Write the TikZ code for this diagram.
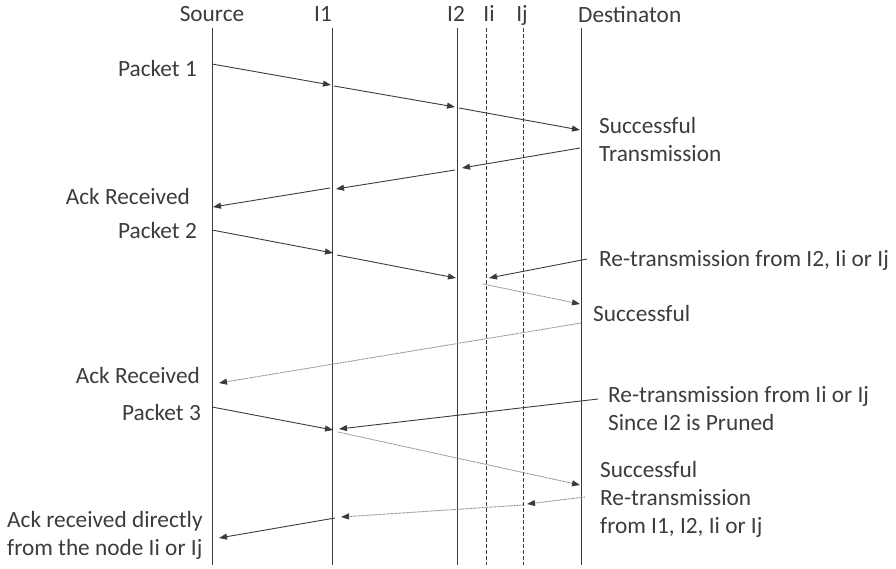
\documentclass[tikz,border=0pt]{standalone}
\usepackage{fontspec}
\setmainfont{Carlito}
\usetikzlibrary{arrows.meta}

\definecolor{lifegray}{HTML}{3C3C3C}
\definecolor{fadegray}{HTML}{8A8A8A}
\tikzset{
  lifeline/.style={draw=lifegray, line width=0.9pt},
  prunedline/.style={lifeline, dash pattern=on 3.5pt off 2.5pt},
  msg/.style={draw=lifegray, line width=0.9pt, -{Triangle[length=8pt,width=6pt,color=lifegray]}},
  weakmsg/.style={msg, draw=fadegray, dash pattern=on 1pt off 0.6pt},
  lbl/.style={font=\fontsize{23.3}{28}\selectfont, inner sep=0pt, align=left, text=lifegray}
}

\begin{document}
\begin{tikzpicture}[x=1pt, y=-1pt]
  \useasboundingbox (0,0) rectangle (896,568);

  \node[lbl, anchor=base] (hsrc) at (212,21) {Source};
  \node[lbl, anchor=base] (hione) at (323,21) {I1};
  \node[lbl, anchor=base] (hitwo) at (456,21) {I2};
  \node[lbl, anchor=base] (hii) at (489,21) {Ii};
  \node[lbl, anchor=base] (hij) at (522,21) {Ij};
  \node[lbl, anchor=base west] (hdst) at (578,22) {Destinaton};

  \coordinate (srctop) at (212,28);  \coordinate (srcbot) at (212,565);
  \coordinate (ionetop) at (332,28); \coordinate (ionebot) at (332,565);
  \coordinate (itwotop) at (457,28); \coordinate (itwobot) at (457,565);
  \coordinate (iitop) at (486,28);   \coordinate (iibot) at (486,565);
  \coordinate (ijtop) at (523,28);   \coordinate (ijbot) at (523,565);
  \coordinate (dsttop) at (581,28);  \coordinate (dstbot) at (581,565);

  \draw[lifeline] (srctop) -- (srcbot);
  \draw[lifeline] (ionetop) -- (ionebot);
  \draw[lifeline] (itwotop) -- (itwobot);
  \draw[prunedline] (iitop) -- (iibot);
  \draw[prunedline] (ijtop) -- (ijbot);
  \draw[lifeline] (dsttop) -- (dstbot);

  \coordinate (pa1) at (212,64);  \coordinate (pb1) at (331,85);
  \coordinate (pc1) at (334,86);  \coordinate (pd1) at (455,107);
  \coordinate (pe1) at (459,108); \coordinate (pf1) at (580,130);
  \draw[msg] (pa1) -- (pb1);
  \draw[msg] (pc1) -- (pd1);
  \draw[msg] (pe1) -- (pf1);

  \coordinate (aa1) at (580,148); \coordinate (ab1) at (462,168);
  \coordinate (ac1) at (455,170); \coordinate (ad1) at (336,189);
  \coordinate (ae1) at (330,188); \coordinate (af1) at (213,207);
  \draw[msg] (aa1) -- (ab1);
  \draw[msg] (ac1) -- (ad1);
  \draw[msg] (ae1) -- (af1);

  \coordinate (pa2) at (212,230); \coordinate (pb2) at (333,253);
  \coordinate (pc2) at (337,255); \coordinate (pd2) at (456,278);
  \coordinate (ra2) at (587,259); \coordinate (rb2) at (489,278);
  \coordinate (rc2) at (483,284); \coordinate (rd2) at (580,304);
  \coordinate (aa2) at (581,323); \coordinate (ab2) at (219,383);
  \draw[msg] (pa2) -- (pb2);
  \draw[msg] (pc2) -- (pd2);
  \draw[msg] (ra2) -- (rb2);
  \draw[weakmsg] (rc2) -- (rd2);
  \draw[weakmsg] (aa2) -- (ab2);

  \coordinate (pa3) at (212,407); \coordinate (pb3) at (333,430);
  \coordinate (ra3) at (598,399); \coordinate (rb3) at (339,429);
  \coordinate (rc3) at (338,432); \coordinate (rd3) at (580,485);
  \coordinate (aa3) at (585,497); \coordinate (ab3) at (527,504);
  \coordinate (ac3) at (523,505); \coordinate (ad3) at (341,517);
  \coordinate (ae3) at (335,518); \coordinate (af3) at (219,538);
  \draw[msg] (pa3) -- (pb3);
  \draw[msg] (ra3) -- (rb3);
  \draw[weakmsg] (rc3) -- (rd3);
  \draw[weakmsg] (aa3) -- (ab3);
  \draw[weakmsg] (ac3) -- (ad3);
  \draw[msg] (ae3) -- (af3);

  \node[lbl, anchor=base east] (tpkt1) at (197,76) {Packet 1};
  \node[lbl, anchor=base west] (tsucc1) at (599,161) {Successful\\Transmission};
  \node[lbl, anchor=base east] (tack1) at (190,204) {Ack Received};
  \node[lbl, anchor=base east] (tpkt2) at (197,238) {Packet 2};
  \node[lbl, anchor=base west] (tretx2) at (599,266) {Re-transmission from I2, Ii or Ij};
  \node[lbl, anchor=base west] (tsucc2) at (593,321) {Successful};
  \node[lbl, anchor=base east] (tack2) at (200,383) {Ack Received};
  \node[lbl, anchor=base east] (tpkt3) at (201,420) {Packet 3};
  \node[lbl, anchor=base west] (tretx3) at (608,430) {Re-transmission from Ii or Ij\\Since I2 is Pruned};
  \node[lbl, anchor=base west] (tsucc3) at (600,533) {Successful\\Re-transmission\\from I1, I2, Ii or Ij};
  \node[lbl, anchor=base west] (tack3) at (7,555) {Ack received directly\\from the node Ii or Ij};
\end{tikzpicture}
\end{document}
